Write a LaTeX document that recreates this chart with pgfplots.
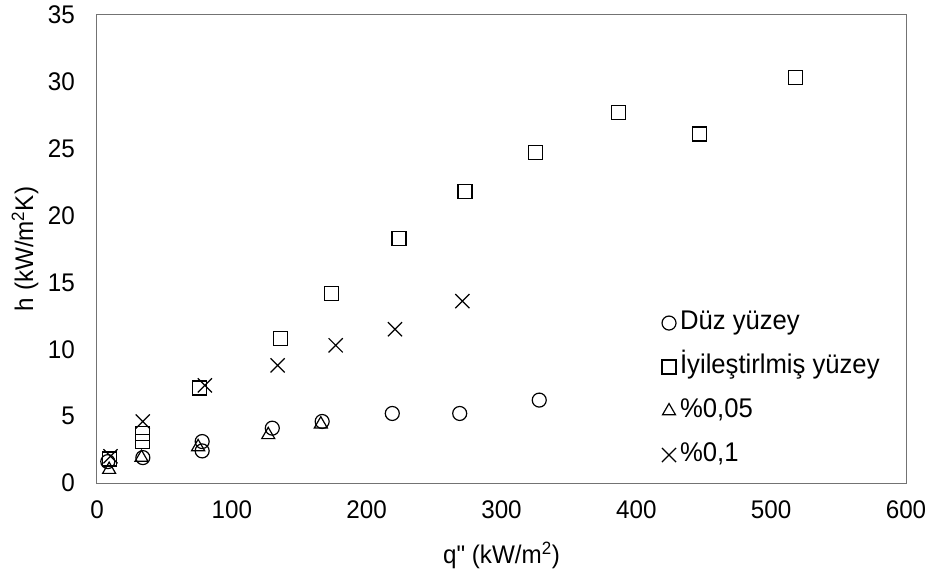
\documentclass[border=0pt]{standalone}
\usepackage{fontspec}
\setmainfont{Liberation Sans}[FakeStretch=0.95]
\usepackage{pgfplots}
\pgfplotsset{compat=1.18}
\begin{document}
\fontsize{25.5}{29}\selectfont
\begin{tikzpicture}
\begin{axis}[
  at={(97pt,96pt)}, anchor=south west,
  scale only axis,
  width=809pt, height=468pt,
  xmin=0, xmax=600, ymin=0, ymax=35,
  xtick distance=100, ytick distance=5,
  major tick length=0pt,
  axis line style={black!55, line width=1pt},
  /pgf/number format/assume math mode=true,
  ticklabel style={font=\fontsize{25.5}{29}\selectfont, inner sep=0pt},
  xticklabel style={yshift=-17pt},
  yticklabel style={xshift=-22pt},
  xlabel={q{\addfontfeatures{Ligatures=TeXOff}"} (kW/m\textsuperscript{2})},
  ylabel={h (kW/m\textsuperscript{2}K)},
  label style={font=\fontsize{25.5}{29}\selectfont},
  xlabel style={at={(axis description cs:0.5,-0.154)}, anchor=center},
  ylabel style={at={(axis description cs:-0.089,0.5)}, anchor=center},
  legend style={draw=none, fill=none, at={(axis cs:419,12.86)}, anchor=north west,
    font=\fontsize{27}{30}\selectfont, row sep=20pt, inner sep=0pt, outer sep=0pt,
    column sep=4pt,
    nodes={inner sep=0pt, text height=18pt, text depth=6pt}},
  legend cell align=left,
  every axis plot/.append style={only marks, black, line width=1.2pt, mark options={solid, fill=none}},
]
\addplot[mark=o, mark size=7pt] coordinates {
 (8,1.6) (34,1.9) (78,3.1) (78,2.4) (130,4.1) (167,4.6) (219,5.2) (269,5.2) (328,6.2)
};
\addlegendentry{Düz yüzey}
\addplot[mark=square, mark size=7pt] coordinates {
 (9,1.8) (34,3.1) (34,3.7) (76,7.1) (136,10.8) (174,14.2) (224,18.3) (273,21.8) (325,24.7) (387,27.7) (447,26.1) (518,30.3)
};
\addlegendentry{İyileştirlmiş yüzey}
\addplot[mark=triangle, mark size=7.5pt] coordinates {
 (9,1.0) (33,1.9) (75,2.7) (127,3.6) (166,4.4)
};
\addlegendentry{\%0,05}
\addplot[mark=x, mark size=10pt] coordinates {
 (10,2.0) (34,4.6) (80,7.3) (134,8.8) (177,10.3) (221,11.5) (271,13.6)
};
\addlegendentry{\%0,1}
\end{axis}
\pgfresetboundingbox
\path (0pt,0pt) rectangle (941pt,579pt);
\end{tikzpicture}
\end{document}
